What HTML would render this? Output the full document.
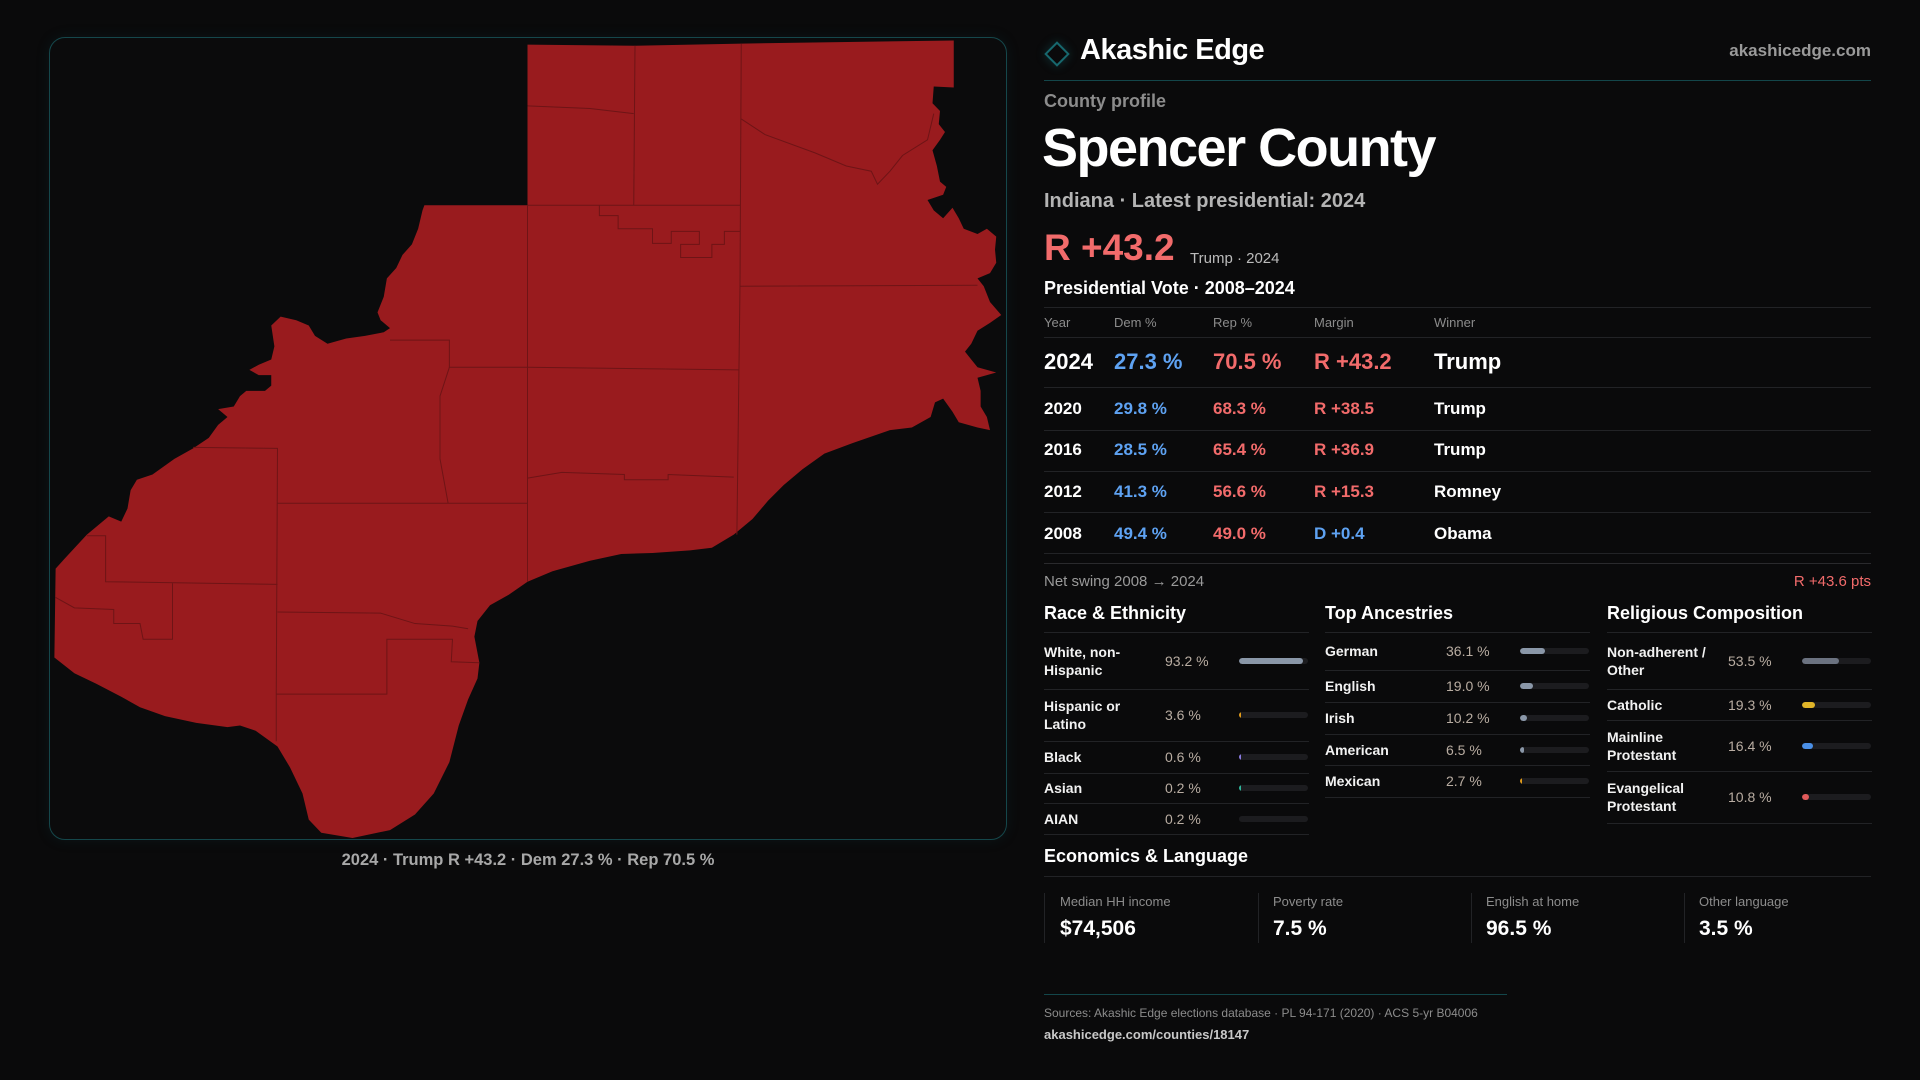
<!DOCTYPE html>
<html><head><meta charset="utf-8">
<style>
*{margin:0;padding:0;box-sizing:border-box}
body{width:1920px;height:1080px;background:#0a0a0b;font-family:"Liberation Sans",sans-serif;position:relative;overflow:hidden;color:#fff}
.t{position:absolute;white-space:nowrap;line-height:1}
.ln{position:absolute;height:1px;background:#222326}
.lbl{font-size:14px;font-weight:bold;color:#f2f2f2;line-height:18px}
.val{font-size:14px;color:#b9ada2}
.track{position:absolute;height:6px;border-radius:3px;background:#1c1c1f;overflow:hidden}
.fill{position:absolute;left:0;top:0;height:6px;border-radius:3px}
</style></head><body>
<div style="position:absolute;left:49px;top:37px;width:958px;height:803px;border:1px solid #15474b;border-radius:16px;background:#0b0b0c;box-shadow:0 0 14px rgba(20,90,95,0.15)"></div>
<svg style="position:absolute;left:40px;top:30px" width="980" height="820" viewBox="0 0 1568 1568" preserveAspectRatio="none">
<polygon fill="#991b1e" points="780,28 952,30 1122,26 1462,20 1462,110 1430,108 1428,140 1440,155 1438,180 1448,195 1440,210 1428,230 1435,260 1440,290 1450,300 1445,315 1420,325 1430,345 1445,360 1460,340 1470,360 1478,380 1500,390 1515,380 1530,395 1528,420 1530,445 1520,465 1500,475 1510,490 1520,520 1538,545 1520,560 1500,575 1490,600 1480,615 1490,630 1500,645 1530,655 1500,665 1505,690 1505,720 1515,740 1520,765 1500,760 1470,750 1460,730 1445,705 1432,712 1425,740 1395,760 1360,765 1300,790 1255,810 1220,840 1190,870 1165,900 1140,935 1110,965 1075,990 1040,995 980,1000 930,1002 880,1015 820,1035 780,1055 750,1080 720,1100 700,1130 695,1160 703,1210 700,1240 685,1280 670,1330 655,1400 630,1460 600,1500 560,1530 500,1545 450,1535 430,1510 420,1460 400,1410 380,1370 345,1340 320,1330 300,1333 250,1325 200,1312 160,1295 130,1275 90,1250 55,1230 23,1200 25,1030 40,1010 75,965 110,930 130,940 140,915 145,880 155,860 180,850 215,820 245,800 270,780 285,755 300,740 285,725 310,720 320,700 330,690 360,690 370,680 370,660 350,660 335,650 350,640 370,630 375,605 370,565 385,548 410,555 430,565 440,585 460,600 490,590 520,585 550,578 560,570 545,555 540,540 550,510 555,475 570,455 580,430 595,410 605,380 612,345 615,335 780,335"/>
<g fill="none" stroke="#6e1416" stroke-width="1" vector-effect="non-scaling-stroke">
<polyline vector-effect="non-scaling-stroke" points="780,145 880,150 950,160"/>
<polyline vector-effect="non-scaling-stroke" points="952,30 950,335"/>
<polyline vector-effect="non-scaling-stroke" points="1122,26 1120,490 1115,965"/>
<polyline vector-effect="non-scaling-stroke" points="780,335 1120,335"/>
<polyline vector-effect="non-scaling-stroke" points="1122,170 1160,200 1240,235 1290,260 1330,270 1340,295 1360,270 1380,240 1420,210 1430,160"/>
<polyline vector-effect="non-scaling-stroke" points="1120,490 1500,488"/>
<polyline vector-effect="non-scaling-stroke" points="780,335 780,1055"/>
<polyline vector-effect="non-scaling-stroke" points="560,593 655,593 655,645 780,645 1118,650"/>
<polyline vector-effect="non-scaling-stroke" points="655,645 640,700 640,820 653,905"/>
<polyline vector-effect="non-scaling-stroke" points="245,798 380,800 378,1270 378,1360"/>
<polyline vector-effect="non-scaling-stroke" points="380,905 780,905"/>
<polyline vector-effect="non-scaling-stroke" points="780,857 835,846 935,850 935,860 1005,860 1005,850 1110,855"/>
<polyline vector-effect="non-scaling-stroke" points="75,967 105,967 105,1055 380,1060"/>
<polyline vector-effect="non-scaling-stroke" points="212,1058 212,1165 165,1165 160,1135 118,1135 118,1108 55,1105 25,1085"/>
<polyline vector-effect="non-scaling-stroke" points="380,1113 545,1115 600,1135 660,1140 685,1145"/>
<polyline vector-effect="non-scaling-stroke" points="378,1270 555,1270 555,1165 660,1165 658,1208 703,1210"/>
<polyline vector-effect="non-scaling-stroke" points="895,335 895,355 925,355 925,380 980,380 980,408 1010,408 1010,385 1055,385 1055,410 1025,410 1025,435 1075,435 1075,410 1095,410 1095,385 1120,385"/>
</g>
</svg>
<div class="t" style="left:0;width:1056px;text-align:center;top:852px;font-size:16.5px;font-weight:bold;color:#a8a8a8">2024 · Trump R +43.2 · Dem 27.3 % · Rep 70.5 %</div>

<div style="position:absolute;left:1048px;top:45px;width:18px;height:18px;border:2px solid #17686e;transform:rotate(45deg);box-shadow:0 0 10px rgba(23,104,110,0.4)"></div>
<div class="t" style="left:1080px;top:36px;font-size:29px;font-weight:bold;letter-spacing:-0.5px">Akashic Edge</div>
<div class="t" style="right:49px;top:42px;font-size:17px;font-weight:bold;color:#9a9a9a">akashicedge.com</div>
<div class="ln" style="left:1044px;width:827px;top:80px;background:#13464a"></div>
<div class="t" style="left:1044px;top:92px;font-size:18px;color:#8c8c8c;font-weight:bold">County profile</div>
<div class="t" style="left:1042px;top:121px;font-size:54px;font-weight:bold;letter-spacing:-1.5px">Spencer County</div>
<div class="t" style="left:1044px;top:191px;font-size:20px;font-weight:bold;color:#b4b4b4">Indiana · Latest presidential: 2024</div>
<div class="t" style="left:1044px;top:229px;font-size:37px;font-weight:bold;color:#f26b6b">R +43.2</div>
<div class="t" style="left:1190px;top:251px;font-size:15px;color:#bbbbbb">Trump · 2024</div>
<div class="t" style="left:1044px;top:279px;font-size:18px;font-weight:bold">Presidential Vote · 2008–2024</div>

<div>
<div class="ln" style="left:1044px;width:827px;top:307px"></div>
<div class="ln" style="left:1044px;width:827px;top:337px"></div>
<div class="ln" style="left:1044px;width:827px;top:387px"></div>
<div class="ln" style="left:1044px;width:827px;top:430px"></div>
<div class="ln" style="left:1044px;width:827px;top:471px"></div>
<div class="ln" style="left:1044px;width:827px;top:512px"></div>
<div class="ln" style="left:1044px;width:827px;top:553px"></div>
<div class="ln" style="left:1044px;width:827px;top:563px;background:#2a2a2d"></div>
<div class="t" style="left:1044px;top:316px;font-size:13px;color:#8c8c8c">Year</div>
<div class="t" style="left:1114px;top:316px;font-size:13px;color:#8c8c8c">Dem %</div>
<div class="t" style="left:1213px;top:316px;font-size:13px;color:#8c8c8c">Rep %</div>
<div class="t" style="left:1314px;top:316px;font-size:13px;color:#8c8c8c">Margin</div>
<div class="t" style="left:1434px;top:316px;font-size:13px;color:#8c8c8c">Winner</div>
<div>
<div class="t" style="left:1044px;top:351px;font-size:22px;font-weight:bold">2024</div>
<div class="t" style="left:1114px;top:351px;font-size:22px;font-weight:bold;color:#5ea2f2">27.3 %</div>
<div class="t" style="left:1213px;top:351px;font-size:22px;font-weight:bold;color:#f26b6b">70.5 %</div>
<div class="t" style="left:1314px;top:351px;font-size:22px;font-weight:bold;color:#f26b6b">R +43.2</div>
<div class="t" style="left:1434px;top:351px;font-size:22px;font-weight:bold">Trump</div></div>
<div>
<div class="t" style="left:1044px;top:400px;font-size:17px;font-weight:bold">2020</div>
<div class="t" style="left:1114px;top:400px;font-size:17px;font-weight:bold;color:#5ea2f2">29.8 %</div>
<div class="t" style="left:1213px;top:400px;font-size:17px;font-weight:bold;color:#f26b6b">68.3 %</div>
<div class="t" style="left:1314px;top:400px;font-size:17px;font-weight:bold;color:#f26b6b">R +38.5</div>
<div class="t" style="left:1434px;top:400px;font-size:17px;font-weight:bold">Trump</div></div>
<div>
<div class="t" style="left:1044px;top:441px;font-size:17px;font-weight:bold">2016</div>
<div class="t" style="left:1114px;top:441px;font-size:17px;font-weight:bold;color:#5ea2f2">28.5 %</div>
<div class="t" style="left:1213px;top:441px;font-size:17px;font-weight:bold;color:#f26b6b">65.4 %</div>
<div class="t" style="left:1314px;top:441px;font-size:17px;font-weight:bold;color:#f26b6b">R +36.9</div>
<div class="t" style="left:1434px;top:441px;font-size:17px;font-weight:bold">Trump</div></div>
<div>
<div class="t" style="left:1044px;top:483px;font-size:17px;font-weight:bold">2012</div>
<div class="t" style="left:1114px;top:483px;font-size:17px;font-weight:bold;color:#5ea2f2">41.3 %</div>
<div class="t" style="left:1213px;top:483px;font-size:17px;font-weight:bold;color:#f26b6b">56.6 %</div>
<div class="t" style="left:1314px;top:483px;font-size:17px;font-weight:bold;color:#f26b6b">R +15.3</div>
<div class="t" style="left:1434px;top:483px;font-size:17px;font-weight:bold">Romney</div></div>
<div>
<div class="t" style="left:1044px;top:525px;font-size:17px;font-weight:bold">2008</div>
<div class="t" style="left:1114px;top:525px;font-size:17px;font-weight:bold;color:#5ea2f2">49.4 %</div>
<div class="t" style="left:1213px;top:525px;font-size:17px;font-weight:bold;color:#f26b6b">49.0 %</div>
<div class="t" style="left:1314px;top:525px;font-size:17px;font-weight:bold;color:#5ea2f2">D +0.4</div>
<div class="t" style="left:1434px;top:525px;font-size:17px;font-weight:bold">Obama</div></div>
</div>
<div class="t" style="left:1044px;top:574px;font-size:15px;color:#9a9a9a">Net swing 2008 → 2024</div>
<div class="t" style="right:49px;top:574px;font-size:15px;color:#f26b6b">R +43.6 pts</div>

<div class="t" style="left:1044px;top:604px;font-size:18px;font-weight:bold">Race &amp; Ethnicity</div>
<div class="t" style="left:1325px;top:604px;font-size:18px;font-weight:bold">Top Ancestries</div>
<div class="t" style="left:1607px;top:604px;font-size:18px;font-weight:bold">Religious Composition</div>
<div id="race"></div>
<div id="anc"></div>
<div id="rel"></div>

<div class="t" style="left:1044px;top:847px;font-size:18px;font-weight:bold">Economics &amp; Language</div>
<div class="ln" style="left:1044px;width:827px;top:876px"></div>
<div style="position:absolute;left:1044px;top:893px;width:214px;height:50px;border-left:1px solid #222326">
<div class="t" style="left:15px;top:2px;font-size:13px;color:#8c8c8c">Median HH income</div>
<div class="t" style="left:15px;top:25px;font-size:21px;font-weight:bold">$74,506</div></div>
<div style="position:absolute;left:1258px;top:893px;width:213px;height:50px;border-left:1px solid #222326">
<div class="t" style="left:14px;top:2px;font-size:13px;color:#8c8c8c">Poverty rate</div>
<div class="t" style="left:14px;top:25px;font-size:21px;font-weight:bold">7.5 %</div></div>
<div style="position:absolute;left:1471px;top:893px;width:213px;height:50px;border-left:1px solid #222326">
<div class="t" style="left:14px;top:2px;font-size:13px;color:#8c8c8c">English at home</div>
<div class="t" style="left:14px;top:25px;font-size:21px;font-weight:bold">96.5 %</div></div>
<div style="position:absolute;left:1684px;top:893px;width:187px;height:50px;border-left:1px solid #222326">
<div class="t" style="left:14px;top:2px;font-size:13px;color:#8c8c8c">Other language</div>
<div class="t" style="left:14px;top:25px;font-size:21px;font-weight:bold">3.5 %</div></div>

<div class="ln" style="left:1044px;width:463px;top:994px;background:#13464a"></div>
<div class="t" style="left:1044px;top:1007px;font-size:12px;color:#8c8c8c">Sources: Akashic Edge elections database · PL 94-171 (2020) · ACS 5-yr B04006</div>
<div class="t" style="left:1044px;top:1028px;font-size:13px;font-weight:bold;color:#c8c8c8">akashicedge.com/counties/18147</div>

<script>
const raceLabels=["White, non-<br>Hispanic","Hispanic or<br>Latino","Black","Asian","AIAN"];
const raceValues=[93.2,3.6,0.6,0.2,0.2];
const raceColors=["#8a97a8","#e09a1a","#8a7ae0","#2fb59a","#1c1c1f"];
const ancLabels=["German","English","Irish","American","Mexican"];
const ancValues=[36.1,19.0,10.2,6.5,2.7];
const ancColors=["#8a97a8","#8a97a8","#8a97a8","#8a97a8","#e09a1a"];
const relLabels=["Non-adherent /<br>Other","Catholic","Mainline<br>Protestant","Evangelical<br>Protestant"];
const relValues=[53.5,19.3,16.4,10.8];
const relColors=["#6b7280","#e0b428","#4a8fe6","#e05a5a"];
const raceRows=[[632,689],[689,741],[741,773],[773,803],[803,834]];
const ancRows=[[632,670],[670,702],[702,734],[734,765],[765,797]];
const relRows=[[632,689],[689,720],[720,771],[771,823]];
function build(id,x0,labels,values,colors,rows,name){
  const c=document.getElementById(id);
  const trackW=69;
  labels.forEach((lab,i)=>{
    const top=rows[i][0],bot=rows[i][1],mid=(top+bot)/2;
    const row=document.createElement('div');
    
    
    const l=document.createElement('div');
    l.className='t lbl';
    l.style.left=x0+'px';
    const lines=lab.split('<br>').length;
    l.style.top=(mid-lines*9)+'px';
    l.innerHTML=lab;
    row.appendChild(l);
    const v=document.createElement('div');
    v.className='t val';
    v.style.left=(x0+121)+'px';
    v.style.top=(mid-7)+'px';
    v.textContent=values[i].toFixed(1)+' %';
    row.appendChild(v);
    const tr=document.createElement('div');
    tr.className='track';
    
    
    tr.style.left=(x0+195)+'px';
    tr.style.top=(mid-3)+'px';
    tr.style.width=trackW+'px';
    const f=document.createElement('div');
    f.className='fill';
    
    
    f.style.width=Math.max(2,trackW*values[i]/100)+'px';
    f.style.background=colors[i];
    tr.appendChild(f);
    row.appendChild(tr);
    const ln=document.createElement('div');
    ln.className='ln';
    ln.style.left=x0+'px';ln.style.width='265px';ln.style.top=top+'px';
    row.appendChild(ln);
    if(i===labels.length-1){
      const ln2=document.createElement('div');
      ln2.className='ln';
      ln2.style.left=x0+'px';ln2.style.width='265px';ln2.style.top=bot+'px';
      row.appendChild(ln2);
    }
    c.appendChild(row);
  });
}
build('race',1044,raceLabels,raceValues,raceColors,raceRows,'race');
build('anc',1325,ancLabels,ancValues,ancColors,ancRows,'ancestry');
build('rel',1607,relLabels,relValues,relColors,relRows,'religion');
</script>
</body></html>
